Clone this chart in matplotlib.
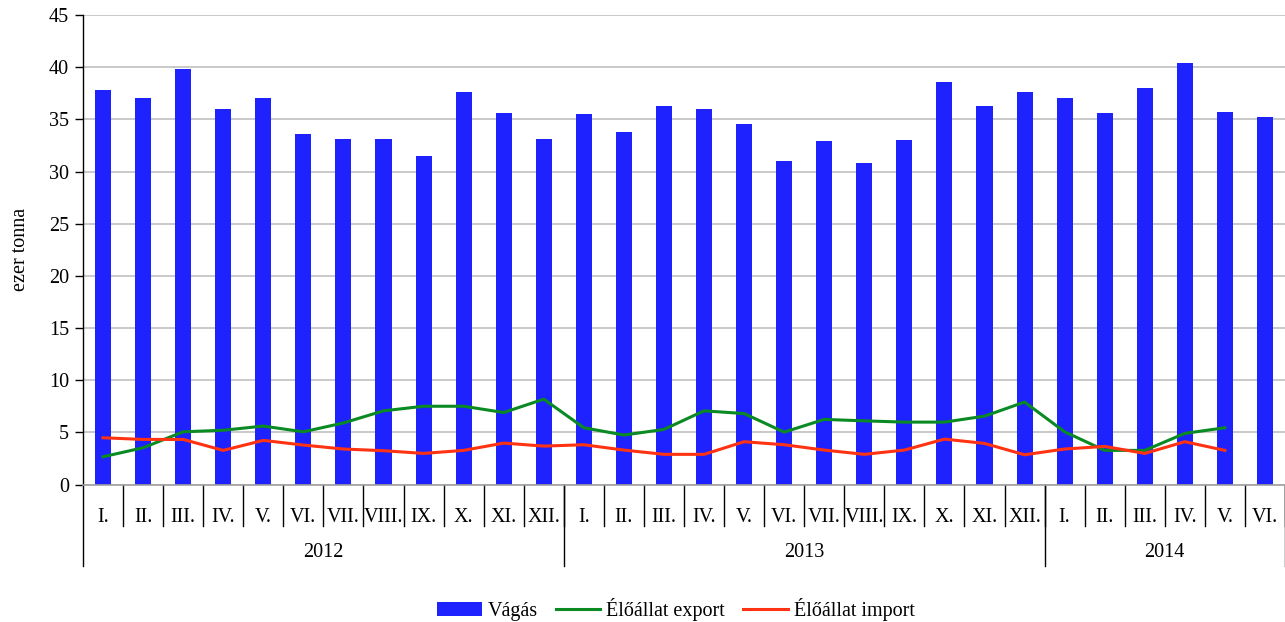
import matplotlib
matplotlib.use("Agg")
import matplotlib.pyplot as plt
import matplotlib.transforms as mtransforms
import numpy as np

# Monthly data (ezer tonna)
months = ["I.", "II.", "III.", "IV.", "V.", "VI.", "VII.", "VIII.", "IX.", "X.", "XI.", "XII."] * 2 + \
         ["I.", "II.", "III.", "IV.", "V.", "VI."]
years = ["2012", "2013", "2014"]
year_lengths = [12, 12, 6]

vagas = [37.85, 37.0, 39.86, 36.0, 37.0, 33.64, 33.16, 33.16, 31.53, 37.66, 35.65, 33.16,
         35.55, 33.83, 36.32, 36.03, 34.6, 31.05, 32.97, 30.77, 33.06, 38.6, 36.32, 37.66,
         37.0, 35.65, 38.04, 40.43, 35.74, 35.26]
export = [2.66, 3.52, 5.05, 5.2, 5.6, 5.05, 5.9, 7.06, 7.5, 7.5, 6.9, 8.18,
          5.44, 4.74, 5.28, 7.06, 6.8, 5.02, 6.24, 6.1, 5.98, 5.98, 6.55, 7.9,
          5.05, 3.27, 3.27, 4.9, 5.44]
importv = [4.48, 4.32, 4.32, 3.27, 4.23, 3.78, 3.4, 3.24, 2.98, 3.27, 3.97, 3.68,
           3.81, 3.3, 2.89, 2.89, 4.1, 3.81, 3.3, 2.89, 3.3, 4.35, 3.94, 2.85,
           3.4, 3.65, 2.98, 4.1, 3.27]

plt.rcParams["font.family"] = ["Liberation Serif", "DejaVu Serif"]
plt.rcParams["font.size"] = 14.5

fig = plt.figure(figsize=(12.85, 6.22), dpi=100)
ax = fig.add_axes([83 / 1285, 1 - 484.5 / 622, 1 - 83 / 1285, 469.5 / 622])

x = np.arange(len(vagas))
h_bar = ax.bar(x, vagas, width=0.4, color="#1E22FF", label="Vágás", zorder=2)
h_exp, = ax.plot(np.arange(len(export)), export, color="#0A8A22", lw=2.2, label="Élőállat export", zorder=3)
h_imp, = ax.plot(np.arange(len(importv)), importv, color="#FF3312", lw=2.2, label="Élőállat import", zorder=3)

ax.set_xlim(-0.5, len(vagas) - 0.5)
ax.set_ylim(0, 45)
ax.set_yticks(range(0, 46, 5))
ax.yaxis.grid(True, color="#c0c0c0", lw=1.2, zorder=0)
ax.set_axisbelow(True)
ax.set_xticks([])
ax.tick_params(axis="y", direction="out", length=6, width=1, pad=4)
for s in ["top", "right"]:
    ax.spines[s].set_visible(False)
ax.spines["bottom"].set_color("#a0a0a0")
ax.spines["bottom"].set_linewidth(1.2)
ax.spines["left"].set_linewidth(1.0)
ax.set_ylabel("ezer tonna", labelpad=14)

# Two-level category axis
trans = mtransforms.blended_transform_factory(ax.transData, ax.transAxes)
for i, m in enumerate(months):
    ax.text(i, -0.07, m, transform=trans, ha="center", va="center")
for b in range(1, len(months) + 1):
    ax.plot([b - 0.5, b - 0.5], [0, -0.088], transform=trans, color="black", lw=1, clip_on=False)
start = 0
ax.plot([-0.5, -0.5], [0, -0.173], transform=trans, color="black", lw=1, clip_on=False)
for y, n in zip(years, year_lengths):
    ax.text(start + (n - 1) / 2, -0.144, y, transform=trans, ha="center", va="center")
    end = start + n - 0.5
    ax.plot([end, end], [0, -0.173], transform=trans, color="black", lw=1, clip_on=False)
    start += n

fig.legend(handles=[h_bar, h_exp, h_imp], loc="center", bbox_to_anchor=(0.526, 0.02), ncol=3,
           frameon=False, handlelength=2.2, handleheight=0.75, columnspacing=0.9, handletextpad=0.3)

fig.savefig("out.png", dpi=100)
